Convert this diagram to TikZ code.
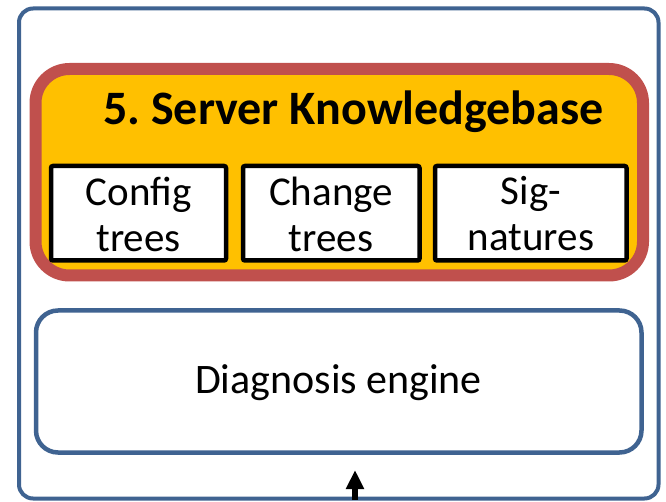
\documentclass[tikz,border=0pt]{standalone}
\usepackage{fontspec}
\setmainfont{Carlito}
\frenchspacing
\usetikzlibrary{arrows.meta}
\definecolor{frameblue}{HTML}{3F6391}
\definecolor{kbred}{HTML}{C0504D}
\definecolor{kbfill}{HTML}{FFC000}
\tikzset{
  outerframe/.style={draw=frameblue, line width=4pt, rounded corners=14pt},
  kbpanel/.style={draw=kbred, fill=kbfill, line width=12pt, rounded corners=34pt},
  enginebox/.style={draw=frameblue, line width=4.5pt, rounded corners=22pt},
  kbitem/.style={draw=black, fill=white, line width=4.5pt, rounded corners=2pt},
  itemtext/.style={align=center, font=\fontsize{41}{46}\selectfont},
  titletext/.style={anchor=base, font=\fontsize{48}{54}\selectfont\bfseries},
  enginetext/.style={font=\fontsize{42}{48}\selectfont},
  feed/.style={line width=5.5pt, -{Triangle[width=17pt,length=19pt]}}
}
\begin{document}
\begin{tikzpicture}[x=1pt, y=-1pt]
  \useasboundingbox (0,0) rectangle (666,502);
  % outer container
  \draw[outerframe] (19,8.5) rectangle (658.5,498.5);
  % knowledgebase panel
  \draw[kbpanel] (35.5,69) rectangle (643,275.5);
  \node[titletext] (title) at (353.5,125) {5. Server Knowledgebase};
  % knowledgebase items
  \draw[kbitem] (51,166) rectangle (226,260.5);
  \draw[kbitem] (243,166) rectangle (419.5,260.5);
  \draw[kbitem] (435,166) rectangle (626.5,260.5);
  \node[itemtext] (config) at (138.5,214) {Config\\trees};
  \node[itemtext] (change) at (331,214) {Change\\trees};
  \node[itemtext] (sig) at (531,214) {Sig-\\natures};
  % diagnosis engine
  \draw[enginebox] (36,310.5) rectangle (641.5,452.5);
  \node[enginetext] (engine) at (338.5,383) {Diagnosis engine};
  % incoming arrow
  \coordinate (feedin) at (355,500);
  \coordinate (feedtip) at (355,470);
  \draw[feed] (feedin) -- (feedtip);
\end{tikzpicture}
\end{document}
